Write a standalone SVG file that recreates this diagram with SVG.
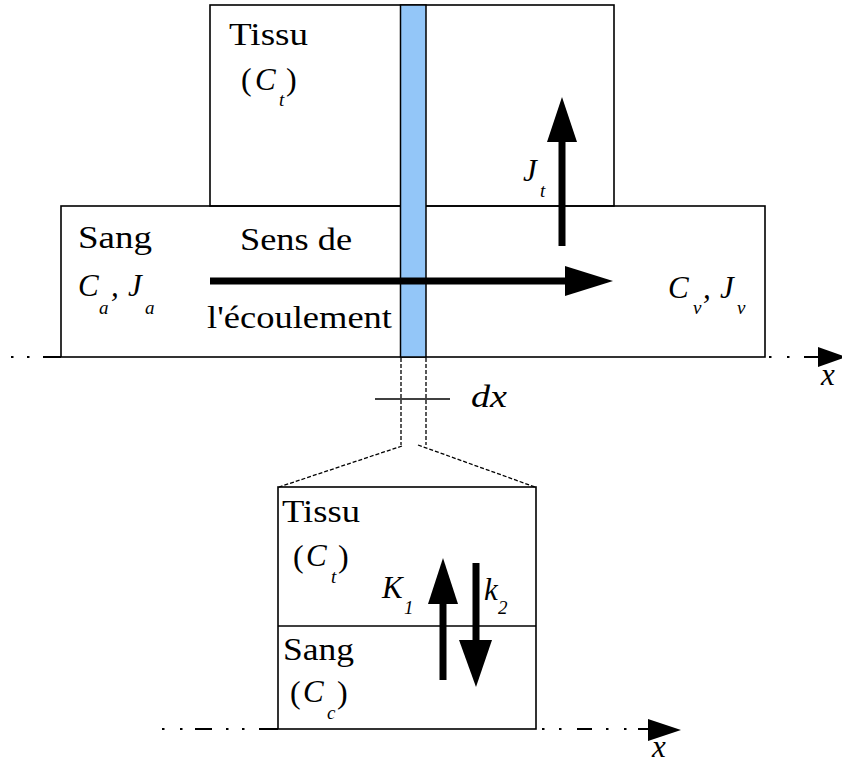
<svg xmlns="http://www.w3.org/2000/svg" width="842" height="765" viewBox="0 0 842 765">
<style>
.box{fill:none;stroke:#000;stroke-width:1.6}
.t{font-family:"Liberation Serif","Times New Roman",serif;font-size:32px;fill:#000}
.i{font-family:"Liberation Serif","Times New Roman",serif;font-size:31px;font-style:italic;fill:#000}
.s{font-family:"Liberation Serif","Times New Roman",serif;font-size:19px;font-style:italic;fill:#000}
.axis{stroke:#000;stroke-width:1.8;fill:none}
.dash{stroke:#000;stroke-width:1.3;fill:none;stroke-dasharray:4 2}
.shaft{stroke:#000;stroke-width:7;fill:none}
.head{fill:#000}
</style>
<rect width="842" height="765" fill="#fff"/>

<g id="tissu-top">
  <rect class="box" x="210" y="5" width="404" height="201"/>
  <text class="t" x="229" y="45" textLength="79" lengthAdjust="spacingAndGlyphs">Tissu</text>
  <text class="t" x="241" y="90">(</text>
  <text class="i" x="255" y="90">C</text>
  <text class="s" x="279" y="106">t</text>
  <text class="t" x="286" y="90">)</text>
</g>

<g id="sang-top">
  <rect class="box" x="61" y="206" width="704" height="151"/>
  <text class="t" x="78" y="248" textLength="74" lengthAdjust="spacingAndGlyphs">Sang</text>
  <text class="i" x="78" y="296">C</text>
  <text class="s" x="99" y="314">a</text>
  <text class="i" x="111" y="296">,</text>
  <text class="i" x="128" y="296">J</text>
  <text class="s" x="145" y="314">a</text>
  <text class="t" x="240" y="250" textLength="112" lengthAdjust="spacingAndGlyphs">Sens de</text>
  <text class="t" x="207" y="328" textLength="185" lengthAdjust="spacingAndGlyphs">l'écoulement</text>
  <text class="i" x="668" y="298">C</text>
  <text class="s" x="693" y="314">v</text>
  <text class="i" x="703" y="298">,</text>
  <text class="i" x="720" y="298">J</text>
  <text class="s" x="737" y="314">v</text>
  <text class="i" x="523" y="181">J</text>
  <text class="s" x="540" y="197">t</text>
</g>

<g id="strip">
  <rect x="400.5" y="5" width="25.5" height="352" fill="#93c6f8" stroke="#000" stroke-width="1.5"/>
</g>

<g id="element-bas">
  <rect class="box" x="278" y="487" width="258" height="242"/>
  <line class="box" x1="278" y1="626" x2="536" y2="626"/>
  <text class="t" x="282" y="522" textLength="78" lengthAdjust="spacingAndGlyphs">Tissu</text>
  <text class="t" x="293" y="567">(</text>
  <text class="i" x="306" y="566">C</text>
  <text class="s" x="331" y="583">t</text>
  <text class="t" x="338" y="567">)</text>
  <text class="t" x="283" y="660" textLength="71" lengthAdjust="spacingAndGlyphs">Sang</text>
  <text class="t" x="290" y="703">(</text>
  <text class="i" x="303" y="702">C</text>
  <text class="s" x="327" y="719">c</text>
  <text class="t" x="337" y="703">)</text>
  <text class="i" x="382" y="598">K</text>
  <text class="s" x="404" y="614">1</text>
  <text class="i" x="484" y="600">k</text>
  <text class="s" x="498" y="614">2</text>
</g>

<g id="labels">
  <text class="i" x="471" y="407" textLength="36" lengthAdjust="spacingAndGlyphs">dx</text>
  <text class="i" x="821" y="385">x</text>
  <text class="i" x="652" y="757">x</text>
</g>

<g id="connectors">
  <!-- axes (dash-dot) -->
  <path class="axis" d="M11,357h2.5M27,357h2.5M43,357h18"/>
  <path class="axis" d="M769,357h2.5M787,357h2.5M804,357h16"/>
  <polygon class="head" points="818,347 846,357 818,367"/>
  <path class="axis" d="M162,729h2.5M180,729h2.5M195,729h17M226,729h2.5M242,729h2.5M259,729h19"/>
  <path class="axis" d="M542,729h2.5M559,729h2.5M577,729h15M606,729h2.5M624,729h2.5M638,729h12"/>
  <polygon class="head" points="648,719 681,730 648,741"/>
  <!-- zoom lines -->
  <line class="dash" x1="401" y1="358" x2="401" y2="445"/>
  <line class="dash" x1="426" y1="358" x2="426" y2="445"/>
  <line class="dash" x1="402" y1="446" x2="279" y2="487"/>
  <line class="dash" x1="418" y1="445" x2="535" y2="487"/>
  <line class="box" x1="375" y1="399" x2="450" y2="399"/>
  <!-- flow arrow -->
  <line class="shaft" x1="210" y1="281" x2="568" y2="281"/>
  <polygon class="head" points="565,266 613,281 565,296"/>
  <!-- J_t -->
  <line class="shaft" x1="562" y1="246" x2="562" y2="140"/>
  <polygon class="head" points="547,142 562,97 577,142"/>
  <!-- K1 up -->
  <line class="shaft" x1="443" y1="680" x2="443" y2="602"/>
  <polygon class="head" points="428,604 443,558 458,604"/>
  <!-- k2 down -->
  <line class="shaft" x1="476" y1="563" x2="476" y2="642"/>
  <polygon class="head" points="459,640 476,687 492,640"/>
</g>
</svg>
